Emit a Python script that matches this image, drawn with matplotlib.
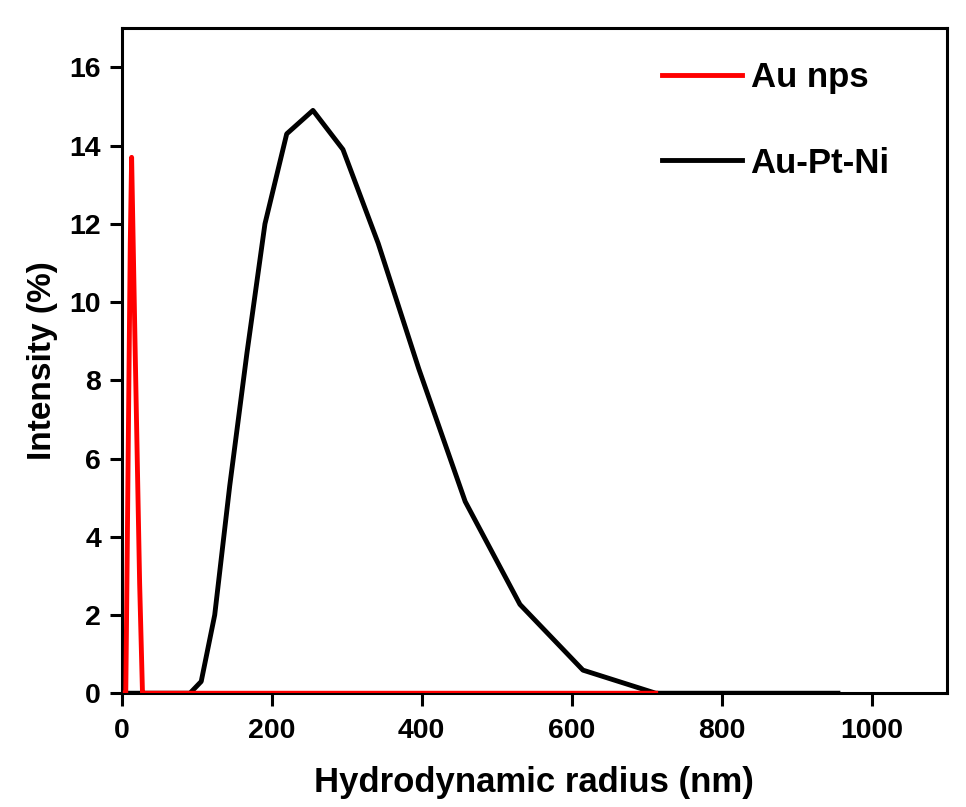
import matplotlib
matplotlib.use("Agg")
import matplotlib.pyplot as plt

plt.rcParams['font.family'] = ['Liberation Sans', 'DejaVu Sans']
plt.rcParams['font.weight'] = 'bold'

# DLS size bins (nm) and intensities (%)
au_radius = [4.7, 5.4, 6.3, 7.3, 8.5, 9.8, 11.4, 13.2, 15.3, 17.8, 20.6, 23.9,
             27.7, 32.2, 37.3, 43.3, 50.2, 58.3, 67.6, 78.4, 91, 106, 124, 144,
             167, 191, 220, 255, 295, 342, 396, 458, 531, 615, 712]
au_intensity = [0, 0, 1.6, 3.5, 5.9, 8.4, 11.5, 13.7, 11.5, 8.9, 6.1, 2.8,
                0, 0, 0, 0, 0, 0, 0, 0, 0, 0, 0, 0,
                0, 0, 0, 0, 0, 0, 0, 0, 0, 0, 0]

aptni_radius = [4.7, 20.6, 43.3, 67.6, 78.4, 91, 106, 124, 144, 167, 191, 220,
                255, 295, 342, 396, 458, 531, 615, 712, 825, 955]
aptni_intensity = [0, 0, 0, 0, 0, 0, 0.3, 2.0, 5.3, 8.7, 12.0, 14.3,
                   14.9, 13.9, 11.5, 8.3, 4.9, 2.27, 0.59, 0, 0, 0]

labels = ["Au nps", "Au-Pt-Ni"]

fig = plt.figure(figsize=(9.66, 8.07), dpi=100)
ax = fig.add_axes([0.126, 0.141, 0.854, 0.824])

l2, = ax.plot(aptni_radius, aptni_intensity, color='black', lw=3.5, zorder=2)
l1, = ax.plot(au_radius, au_intensity, color='red', lw=3.5, zorder=3)

ax.set_xlim(0, 1100)
ax.set_ylim(0, 17)
ax.set_xticks([0, 200, 400, 600, 800, 1000])
ax.set_yticks(range(0, 17, 2))

for s in ax.spines.values():
    s.set_linewidth(2.2)
ax.tick_params(direction='out', length=9, width=2.2, labelsize=20.5, pad=6)
ax.tick_params(axis='x', pad=9)

ax.set_xlabel("Hydrodynamic radius (nm)", fontsize=25, fontweight='bold', labelpad=16)
ax.set_ylabel("Intensity (%)", fontsize=24, fontweight='bold', labelpad=8)

ax.legend([l1, l2], labels, frameon=False, fontsize=25, loc='upper left',
          bbox_to_anchor=(0.617, 0.997), handlelength=2.3, handletextpad=0.25,
          labelspacing=1.5)

fig.savefig("out.png", dpi=100, facecolor='white')
